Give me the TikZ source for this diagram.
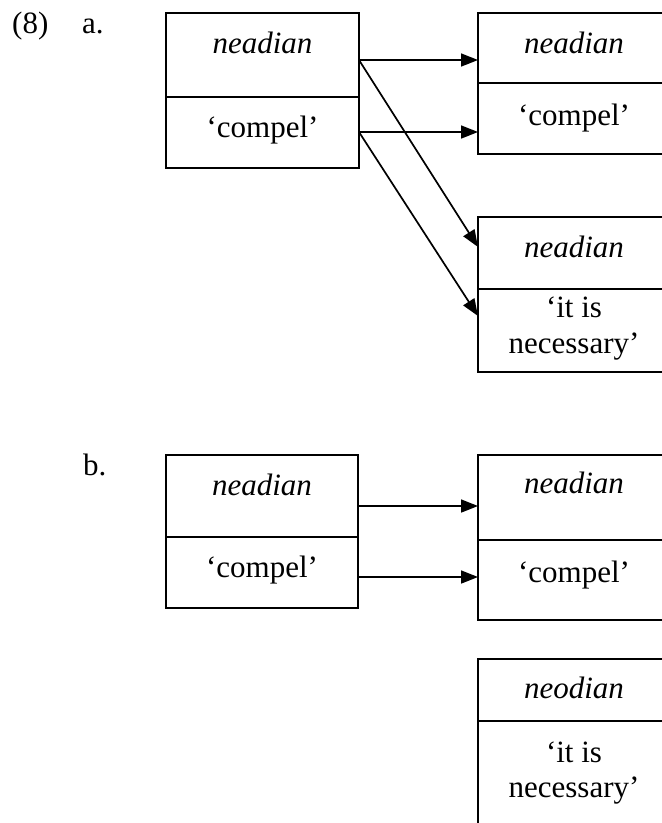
\documentclass[tikz,border=0pt]{standalone}
\usepackage{fontspec}
\setmainfont{Liberation Serif}
\usetikzlibrary{arrows.meta}
\begin{document}
\begin{tikzpicture}[x=1pt,y=-1pt,
  cell/.style={draw, line width=1.9pt, rectangle, inner sep=0pt, outer sep=0pt, anchor=north west},
  lbl/.style={anchor=base, inner sep=0pt, font=\fontsize{31}{37}\selectfont},
  conn/.style={line width=1.7pt, -{Triangle[length=17pt,width=13pt]}}]
\useasboundingbox (0,0) rectangle (662,823);
\clip (0,0) rectangle (662,823);
% labels
\node[lbl, anchor=base west] (n8) at (12,33) {(8)};
\node[lbl, anchor=base west] (na) at (82,33) {a.};
\node[lbl, anchor=base west] (nb) at (83,475) {b.};
% (8a) cells
\node[cell, minimum width=193pt, minimum height=84pt] (aLt) at (166,13) {};
\node[cell, minimum width=193pt, minimum height=71pt] (aLb) at (166,97) {};
\node[cell, minimum width=192pt, minimum height=70pt] (aRt) at (478,13) {};
\node[cell, minimum width=192pt, minimum height=71pt] (aRb) at (478,83) {};
\node[cell, minimum width=192pt, minimum height=72pt] (aQt) at (478,217) {};
\node[cell, minimum width=192pt, minimum height=83pt] (aQb) at (478,289) {};
% (8a) texts
\node[lbl] (t1) at (262.5,53) {\itshape neadian};
\node[lbl] (t2) at (262.5,137) {‘compel’};
\node[lbl] (t3) at (574,53) {\itshape neadian};
\node[lbl] (t4) at (574,125) {‘compel’};
\node[lbl] (t5) at (574,257) {\itshape neadian};
\node[lbl] (t6) at (574,317) {‘it is};
\node[lbl] (t7) at (574,353) {necessary’};
% (8a) connectors
\coordinate (s1) at (359,60);
\coordinate (s2) at (359,132);
\coordinate (e1) at (478,60);
\coordinate (e2) at (478,132);
\coordinate (e3) at (478,247);
\coordinate (e4) at (478,316);
\draw[conn] (s1) -- (e1);
\draw[conn] (s2) -- (e2);
\draw[conn] (s1) -- (e3);
\draw[conn] (s2) -- (e4);
% (8b) cells
\node[cell, minimum width=192pt, minimum height=82pt] (bLt) at (166,455) {};
\node[cell, minimum width=192pt, minimum height=71pt] (bLb) at (166,537) {};
\node[cell, minimum width=192pt, minimum height=85pt] (bRt) at (478,455) {};
\node[cell, minimum width=192pt, minimum height=80pt] (bRb) at (478,540) {};
\node[cell, minimum width=192pt, minimum height=62pt] (bQt) at (478,659) {};
\node[cell, minimum width=192pt, minimum height=120pt] (bQb) at (478,721) {};
% (8b) texts
\node[lbl] (u1) at (262,495) {\itshape neadian};
\node[lbl] (u2) at (262,577) {‘compel’};
\node[lbl] (u3) at (574,493) {\itshape neadian};
\node[lbl] (u4) at (574,582) {‘compel’};
\node[lbl] (u5) at (574,698) {\itshape neodian};
\node[lbl] (u6) at (574,762) {‘it is};
\node[lbl] (u7) at (574,797) {necessary’};
% (8b) connectors
\coordinate (bs1) at (358,506);
\coordinate (bs2) at (358,577);
\coordinate (be1) at (478,506);
\coordinate (be2) at (478,577);
\draw[conn] (bs1) -- (be1);
\draw[conn] (bs2) -- (be2);
\end{tikzpicture}
\end{document}
